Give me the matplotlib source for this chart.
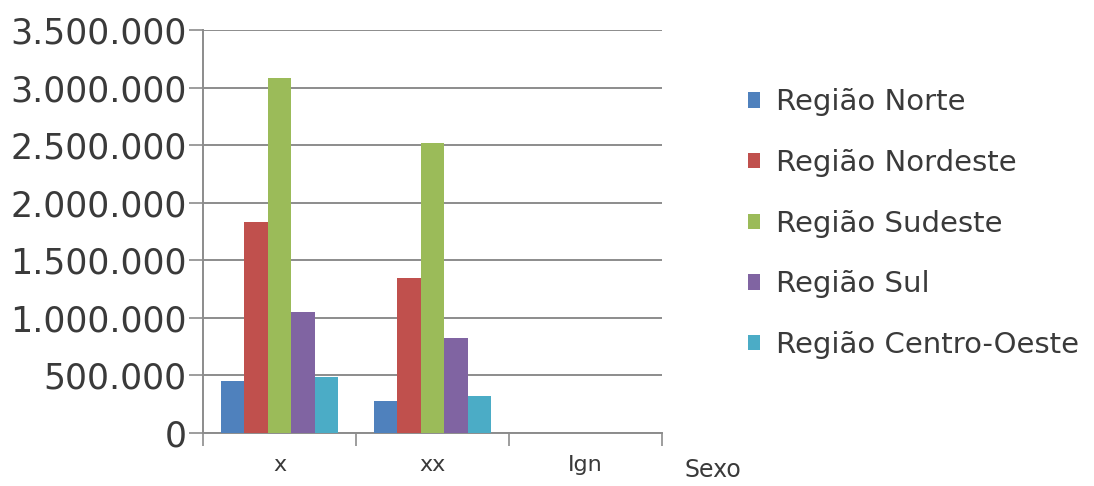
import numpy as np
import matplotlib.pyplot as plt
from matplotlib.ticker import FuncFormatter

# categories and series
categorias = ['x', 'xx', 'Ign']
regioes = ['Região Norte', 'Região Nordeste', 'Região Sudeste', 'Região Sul', 'Região Centro-Oeste']
norte = [453000, 280000, 0]
nordeste = [1834000, 1349000, 0]
sudeste = [3085000, 2522000, 0]
sul = [1054000, 829000, 0]
centro_oeste = [491000, 324000, 0]
yticks = [0, 500000, 1000000, 1500000, 2000000, 2500000, 3000000, 3500000]

series = [norte, nordeste, sudeste, sul, centro_oeste]
cores = ['#4F81BD', '#C0504D', '#9BBB59', '#8064A2', '#4BACC6']

plt.rcParams['font.family'] = ['DejaVu Sans']
texto = '#3a3a3a'

fig = plt.figure(figsize=(10.94, 4.86), dpi=100)
ax = fig.add_axes([0.1856, 0.109, 0.4196, 0.829])

x = np.arange(len(categorias))
largura = 1 / 6.5
for i, (vals, cor, nome) in enumerate(zip(series, cores, regioes)):
    ax.bar(x + (i - 2) * largura, vals, largura, color=cor, label=nome, zorder=3)

ax.set_xlim(-0.5, len(categorias) - 0.5)
ax.set_ylim(0, 3500000)
ax.set_yticks(yticks)
ax.yaxis.set_major_formatter(FuncFormatter(lambda v, p: f'{int(v):,}'.replace(',', '.')))
ax.grid(axis='y', color='#8c8c8c', linewidth=1.4, zorder=0)

# category boundary ticks
ax.set_xticks(np.arange(len(categorias) + 1) - 0.5)
ax.set_xticklabels([])
ax.set_xticks(x, minor=True)
ax.set_xticklabels(categorias, minor=True)
ax.tick_params(axis='x', which='major', length=9, width=1.2, color='#8c8c8c')
ax.tick_params(axis='x', which='minor', length=0, pad=16, labelsize=16, labelcolor=texto)
ax.tick_params(axis='y', length=10, width=1.2, color='#8c8c8c', labelsize=25,
               labelcolor=texto, pad=2)

for s in ['top', 'right']:
    ax.spines[s].set_visible(False)
for s in ['left', 'bottom']:
    ax.spines[s].set_color('#8c8c8c')
    ax.spines[s].set_linewidth(1.4)

fig.text(0.626, 0.018, 'Sexo', fontsize=17, color=texto, ha='left', va='baseline')

ax.legend(loc='upper left', bbox_to_anchor=(0.670, 0.848), bbox_transform=fig.transFigure,
          frameon=False, fontsize=21, labelcolor=texto, handlelength=0.42,
          handleheight=0.42, handletextpad=0.55, labelspacing=1.12, borderpad=0)

fig.savefig('out.png', dpi=100)
